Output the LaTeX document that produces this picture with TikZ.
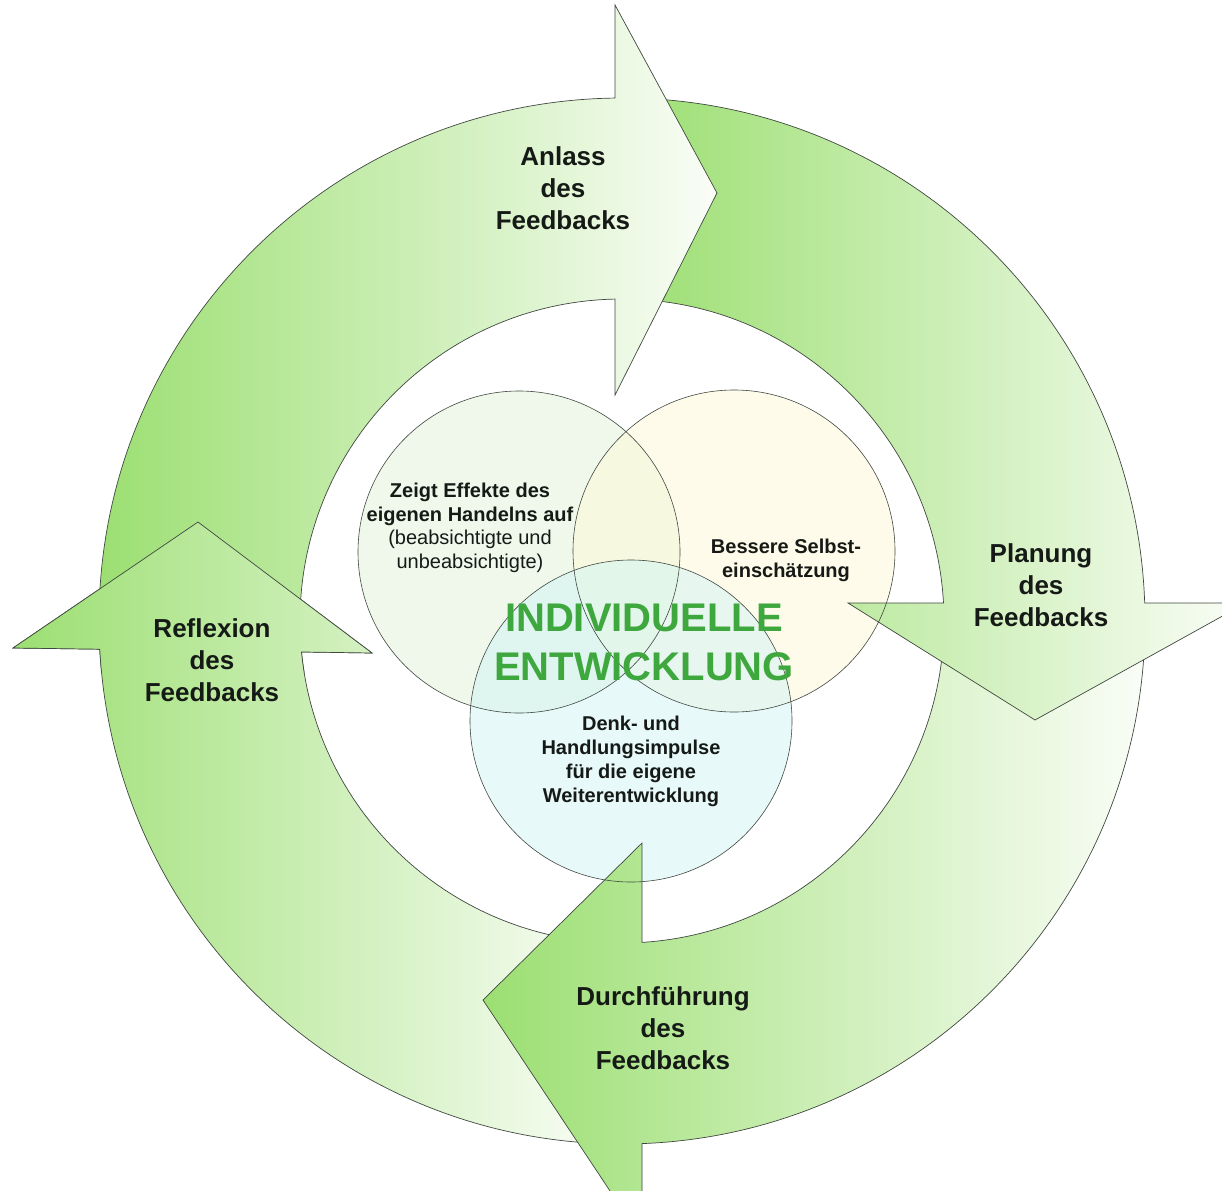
\documentclass[tikz,border=0pt]{standalone}
\usepackage{fontspec}
\setmainfont{Liberation Sans}
\definecolor{gd}{RGB}{156,223,114}
\definecolor{gl}{RGB}{250,253,247}
\definecolor{txtg}{RGB}{62,168,62}
\definecolor{edgec}{RGB}{64,72,64}
\definecolor{txtk}{RGB}{22,26,22}
\definecolor{ca}{RGB}{225,243,217}
\definecolor{cb}{RGB}{255,249,215}
\definecolor{cc}{RGB}{209,245,245}
% arrow outlines (pixel coordinates, y downwards, ring centre (622,621))
\def\arrA{(99,621) arc[start angle=180, end angle=269.233, radius=523] -- (615,5) -- (717,193) -- (615,395) -- (615,299.08) arc[start angle=268.754, end angle=180, radius=322] -- cycle}
\def\arrP{(631.13,98.08) arc[start angle=271, end angle=358.028, radius=523] -- (1246,603) -- (1035,720) -- (848,603) -- (943.5,603) arc[start angle=356.795, end angle=271, radius=322] -- cycle}
\def\arrD{(1144.68,639.25) arc[start angle=2, end angle=87.808, radius=523] -- (642,1239) -- (483,1000) -- (642,843) -- (642,942.38) arc[start angle=86.439, end angle=2, radius=322] -- cycle}
\def\arrR{(603.75,1143.68) arc[start angle=92, end angle=176.91, radius=523] -- (13,648) -- (198,522) -- (372,653) -- (301.49,651.97) arc[start angle=174.48, end angle=92, radius=322] -- cycle}
\tikzset{
  arrowbody/.style={draw=edgec, line width=0.7pt, left color=gd, right color=gl, line join=miter},
  vennfill/.style={circle, inner sep=0pt, minimum size=322pt, fill opacity=0.5},
  vennline/.style={circle, draw=edgec, line width=0.6pt, inner sep=0pt, minimum size=322pt},
  ringlabel/.style={font=\bfseries\fontsize{26}{32}\selectfont, text=txtk, align=center},
  venntext/.style={font=\fontsize{20}{23.5}\selectfont, text=txtk, align=center},
  vennbold/.style={font=\bfseries\fontsize{20}{24}\selectfont, text=txtk, align=center},
  bigtext/.style={font=\bfseries\fontsize{40}{49}\selectfont, text=txtg, align=center}
}
\begin{document}
\begin{tikzpicture}[x=1pt, y=-1pt]
\useasboundingbox (0,0) rectangle (1222,1190);
\fill[white] (0,0) rectangle (1222,1190);
% Venn circle fills (under the arrow heads)
\node[vennfill, fill=ca] (fA) at (519,552) {};
\node[vennfill, fill=cb] (fB) at (734,551) {};
\node[vennfill, fill=cc] (fC) at (631,721) {};
% ring arrows
\path[arrowbody] \arrR;
\path[arrowbody] \arrD;
\path[arrowbody] \arrP;
\path[arrowbody] \arrA;
% head of Reflexion lies on top of the tail of Anlass
\begin{scope}
  \clip (0,500) rectangle (400,672);
  \path[arrowbody] \arrR;
\end{scope}
% Venn circle outlines (over the arrow heads)
\node[vennline] (cA) at (519,552) {};
\node[vennline] (cB) at (734,551) {};
\node[vennline] (cC) at (631,721) {};
% ring labels
\node[ringlabel] (lA) at (563,188) {Anlass\\des\\Feedbacks};
\node[ringlabel] (lP) at (1041,585) {Planung\\des\\Feedbacks};
\node[ringlabel] (lD) at (663,1028) {Durchführung\\des\\Feedbacks};
\node[ringlabel] (lR) at (212,660) {Reflexion\\des\\Feedbacks};
% circle texts
\node[venntext] (tA) at (470,528) {\textbf{Zeigt Effekte des}\\\textbf{eigenen Handelns auf}\\(beabsichtigte und\\unbeabsichtigte)};
\node[vennbold] (tB) at (786,560) {Bessere Selbst-\\einschätzung};
\node[vennbold] (tC) at (631,761) {Denk- und\\Handlungsimpulse\\für die eigene\\Weiterentwicklung};
% centre text
\node[bigtext] (big) at (644,642) {INDIVIDUELLE\\ENTWICKLUNG};
\end{tikzpicture}
\end{document}
